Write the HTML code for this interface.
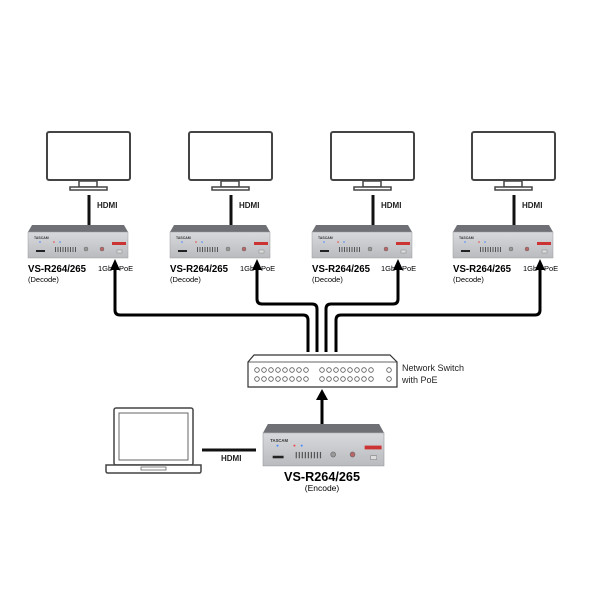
<!DOCTYPE html>
<html><head><meta charset="utf-8"><style>body{margin:0;background:#fff}svg{display:block}</style></head><body>
<svg width="600" height="600" viewBox="0 0 600 600" xmlns="http://www.w3.org/2000/svg" font-family="Liberation Sans, sans-serif">
<defs>
<linearGradient id="face" x1="0" y1="0" x2="0" y2="1"><stop offset="0" stop-color="#d8d9dc"/><stop offset="1" stop-color="#b9bbbf"/></linearGradient>
<g id="dev">
<path d="M4,0 H96 L100,7 H0 Z" fill="#6e7075"/>
<rect x="0" y="7" width="100" height="26" fill="url(#face)" stroke="#9a9ca0" stroke-width="0.5"/>
<text x="6" y="14" font-size="3.5" font-weight="bold" fill="#333">TASCAM</text>
<rect x="8" y="25" width="9" height="2" fill="#222"/>
<g fill="#555"><rect x="27" y="22" width="1" height="5"/><rect x="29.5" y="22" width="1" height="5"/><rect x="32" y="22" width="1" height="5"/><rect x="34.5" y="22" width="1" height="5"/><rect x="37" y="22" width="1" height="5"/><rect x="39.5" y="22" width="1" height="5"/><rect x="42" y="22" width="1" height="5"/><rect x="44.5" y="22" width="1" height="5"/><rect x="47" y="22" width="1" height="5"/></g>
<circle cx="12" cy="17" r="0.8" fill="#48f"/><circle cx="26" cy="17" r="0.8" fill="#e44"/><circle cx="32" cy="17" r="0.8" fill="#48f"/>
<circle cx="58" cy="24" r="2" fill="#999" stroke="#666" stroke-width="0.5"/><circle cx="74" cy="24" r="2" fill="#b66" stroke="#666" stroke-width="0.5"/>
<rect x="84" y="17" width="14" height="3" fill="#c33"/>
<rect x="89" y="25" width="5" height="3" fill="#ddd" stroke="#777" stroke-width="0.4"/>
</g>
<g id="mon">
<rect x="1" y="1" width="83" height="48" rx="2" fill="#fff" stroke="#444" stroke-width="2"/>
<rect x="33" y="50" width="18" height="6" fill="#fff" stroke="#444" stroke-width="1.5"/>
<rect x="24" y="56" width="37" height="3" fill="#fff" stroke="#444" stroke-width="1.5"/>
</g>
</defs>

<use href="#mon" x="46" y="131"/>
<use href="#mon" x="188" y="131"/>
<use href="#mon" x="330" y="131"/>
<use href="#mon" x="471" y="131"/>
<g stroke="#111" stroke-width="3">
<line x1="89" y1="195" x2="89" y2="225"/><line x1="231" y1="195" x2="231" y2="225"/><line x1="373" y1="195" x2="373" y2="225"/><line x1="514" y1="195" x2="514" y2="225"/>
</g>
<g font-size="8" font-weight="bold" fill="#222">
<text x="97" y="208">HDMI</text><text x="239" y="208">HDMI</text><text x="381" y="208">HDMI</text><text x="522" y="208">HDMI</text>
</g>
<use href="#dev" transform="translate(28,225)"/>
<use href="#dev" transform="translate(170,225)"/>
<use href="#dev" transform="translate(312,225)"/>
<use href="#dev" transform="translate(453,225)"/>
<g fill="#000">
<text x="28" y="272" font-size="10.5" font-weight="bold" textLength="58" lengthAdjust="spacingAndGlyphs">VS-R264/265</text><text x="28" y="282" font-size="7.5">(Decode)</text>
<text x="170" y="272" font-size="10.5" font-weight="bold" textLength="58" lengthAdjust="spacingAndGlyphs">VS-R264/265</text><text x="170" y="282" font-size="7.5">(Decode)</text>
<text x="312" y="272" font-size="10.5" font-weight="bold" textLength="58" lengthAdjust="spacingAndGlyphs">VS-R264/265</text><text x="312" y="282" font-size="7.5">(Decode)</text>
<text x="453" y="272" font-size="10.5" font-weight="bold" textLength="58" lengthAdjust="spacingAndGlyphs">VS-R264/265</text><text x="453" y="282" font-size="7.5">(Decode)</text>
<g font-size="7.5"><text x="98" y="271">1Gb</text><text x="119" y="271">PoE</text>
<text x="240" y="271">1Gb</text><text x="261" y="271">PoE</text>
<text x="381" y="271">1Gb</text><text x="402" y="271">PoE</text>
<text x="523" y="271">1Gb</text><text x="544" y="271">PoE</text></g>
</g>

<g fill="none" stroke="#000" stroke-width="3">
<path d="M115,268 V310 Q115,315 120,315 H303 Q308,315 308,320 V352" />
<path d="M257,268 V299 Q257,304 262,304 H312 Q317,304 317,309 V352" />
<path d="M398,268 V299 Q398,304 393,304 H331 Q326,304 326,309 V352" />
<path d="M540,268 V310 Q540,315 535,315 H341 Q336,315 336,320 V352" />
<path d="M322,425 V398"/>
</g>
<g fill="#000">
<path d="M110,270 L115,259 L120,270 Z"/><path d="M252,270 L257,259 L262,270 Z"/><path d="M393,270 L398,259 L403,270 Z"/><path d="M535,270 L540,259 L545,270 Z"/>
<path d="M316,400 L322,389 L328,400 Z"/>
</g>

<path d="M248,362 L254,355 H390 L397,362 V387 H248 Z" fill="#fff" stroke="#333" stroke-width="1.2"/>
<line x1="248" y1="362" x2="397" y2="362" stroke="#333" stroke-width="0.8"/>
<g fill="none" stroke="#555" stroke-width="0.8">
<circle cx="257" cy="370" r="2.3"/><circle cx="264" cy="370" r="2.3"/><circle cx="271" cy="370" r="2.3"/><circle cx="278" cy="370" r="2.3"/><circle cx="285" cy="370" r="2.3"/><circle cx="292" cy="370" r="2.3"/><circle cx="299" cy="370" r="2.3"/><circle cx="306" cy="370" r="2.3"/>
<circle cx="322" cy="370" r="2.3"/><circle cx="329" cy="370" r="2.3"/><circle cx="336" cy="370" r="2.3"/><circle cx="343" cy="370" r="2.3"/><circle cx="350" cy="370" r="2.3"/><circle cx="357" cy="370" r="2.3"/><circle cx="364" cy="370" r="2.3"/><circle cx="371" cy="370" r="2.3"/><circle cx="389" cy="370" r="2.3"/>
<circle cx="257" cy="379" r="2.3"/><circle cx="264" cy="379" r="2.3"/><circle cx="271" cy="379" r="2.3"/><circle cx="278" cy="379" r="2.3"/><circle cx="285" cy="379" r="2.3"/><circle cx="292" cy="379" r="2.3"/><circle cx="299" cy="379" r="2.3"/><circle cx="306" cy="379" r="2.3"/>
<circle cx="322" cy="379" r="2.3"/><circle cx="329" cy="379" r="2.3"/><circle cx="336" cy="379" r="2.3"/><circle cx="343" cy="379" r="2.3"/><circle cx="350" cy="379" r="2.3"/><circle cx="357" cy="379" r="2.3"/><circle cx="364" cy="379" r="2.3"/><circle cx="371" cy="379" r="2.3"/><circle cx="389" cy="379" r="2.3"/>
</g>
<text x="402" y="371" font-size="9" fill="#222">Network Switch</text>
<text x="402" y="383" font-size="9" fill="#222">with PoE</text>

<rect x="114" y="408" width="79" height="57" rx="2" fill="#fff" stroke="#444" stroke-width="1.5"/>
<rect x="119" y="413" width="69" height="47" fill="#fff" stroke="#666" stroke-width="1"/>
<path d="M106,465 H201 V471 Q201,473 199,473 H108 Q106,473 106,471 Z" fill="#fff" stroke="#444" stroke-width="1.5"/>
<rect x="141" y="467" width="25" height="3" fill="none" stroke="#666" stroke-width="0.8"/>
<line x1="202" y1="450" x2="256" y2="450" stroke="#111" stroke-width="3"/>
<text x="221" y="461" font-size="8" font-weight="bold" fill="#222">HDMI</text>
<use href="#dev" transform="translate(263,424) scale(1.21,1.27)"/>
<text x="322" y="481" font-size="13" font-weight="bold" text-anchor="middle" textLength="76" lengthAdjust="spacingAndGlyphs">VS-R264/265</text>
<text x="322" y="491" font-size="8.5" text-anchor="middle">(Encode)</text>
</svg>
</body></html>
